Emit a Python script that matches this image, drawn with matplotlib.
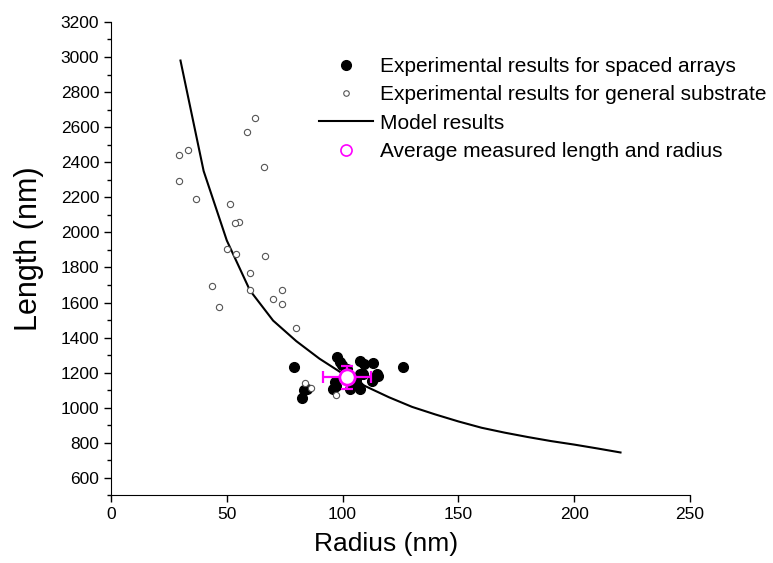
import numpy as np
import matplotlib.pyplot as plt

plt.rcParams['font.family'] = ['Liberation Sans', 'DejaVu Sans']

# Experimental results for spaced arrays (filled)
spaced_r = [79.0, 126.2, 82.3, 83.3, 84.5, 97.4, 98.9, 99.6, 107.5, 109.2,
            113.0, 114.7, 115.5, 113.2, 107.5, 109.0, 112.5, 106.8, 107.5,
            103.2, 96.7, 96.0, 97.0, 101.7, 105.6]
spaced_L = [1230, 1230, 1055, 1101, 1107, 1288, 1263, 1245, 1269, 1250,
            1253, 1193, 1180, 1164, 1193, 1193, 1154, 1126, 1107,
            1107, 1145, 1107, 1126, 1219, 1160]

# Experimental results for general substrate (open)
general_r = [62.2, 58.7, 33.2, 29.5, 66.0, 29.5, 36.7, 51.2, 55.3, 53.5,
             50.0, 53.8, 66.5, 60.0, 43.6, 60.0, 73.7, 70.0, 73.7, 46.5,
             79.9, 83.8, 86.4, 97.0]
general_L = [2650, 2570, 2470, 2442, 2371, 2291, 2193, 2160, 2061, 2051,
             1903, 1874, 1865, 1771, 1693, 1673, 1674, 1623, 1594, 1573,
             1456, 1139, 1112, 1074]

# Model results
model_r = [30, 40, 50, 60, 70, 80, 90, 100, 110, 120, 130, 140, 150, 160,
           170, 180, 190, 200, 210, 220]
model_L = [2980, 2350, 1954, 1669, 1497, 1380, 1280, 1195, 1122, 1060, 1005,
           962, 922, 886, 858, 833, 810, 790, 768, 745]

# Average measured length and radius
avg_r, avg_L = 102.0, 1173
avg_rerr, avg_Lerr = 10.4, 67

fig = plt.figure(figsize=(7.73, 5.63), dpi=100)
ax = fig.add_axes([0.1436, 0.12, 0.749, 0.841])

ax.plot(spaced_r, spaced_L, 'o', color='black', markersize=7,
        label='Experimental results for spaced arrays', zorder=3)
ax.plot(general_r, general_L, 'o', mfc='white', mec='#555555', mew=0.8,
        markersize=4.5, label='Experimental results for general substrate', zorder=4)
ax.plot(model_r, model_L, '-', color='black', lw=1.5, label='Model results', zorder=2)
ax.errorbar(avg_r, avg_L, xerr=avg_rerr, yerr=avg_Lerr, fmt='none',
            ecolor='#ff00ff', elinewidth=1.6, capsize=4, capthick=1.6, zorder=5)
ax.plot(avg_r, avg_L, 'o', mfc='white', mec='#ff00ff', mew=2, markersize=11,
        label='Average measured length and radius', zorder=6)

ax.set_xlim(0, 250)
ax.set_ylim(500, 3200)
ax.set_xticks(np.arange(0, 251, 50))
ax.set_yticks(np.arange(600, 3201, 200))
ax.set_yticks(np.arange(500, 3201, 100), minor=True)
ax.spines['top'].set_visible(False)
ax.spines['right'].set_visible(False)
ax.tick_params(which='major', direction='out', length=5, width=1, labelsize=12.5)
ax.tick_params(which='minor', direction='out', length=3, width=1)

ax.set_xlabel('Radius (nm)', fontsize=19)
ax.set_ylabel('Length (nm)', fontsize=22)
ax.xaxis.set_label_coords(0.475, -0.078)
ax.yaxis.set_label_coords(-0.116, 0.522)

leg = ax.legend(loc='upper left', bbox_to_anchor=(319 / 773, 1 - 57 / 563),
                bbox_transform=fig.transFigure, frameon=False,
                fontsize=15, handlelength=2.6, handletextpad=0.34,
                labelspacing=0.45, borderpad=0, borderaxespad=0)
# smaller markers in the legend, as in the original
leg.legend_handles[0].set_markersize(7)
leg.legend_handles[1].set_markersize(4)
leg.legend_handles[3].set_markersize(8)
leg.legend_handles[3].set_markeredgewidth(1.2)

fig.savefig('out.png', dpi=100)
